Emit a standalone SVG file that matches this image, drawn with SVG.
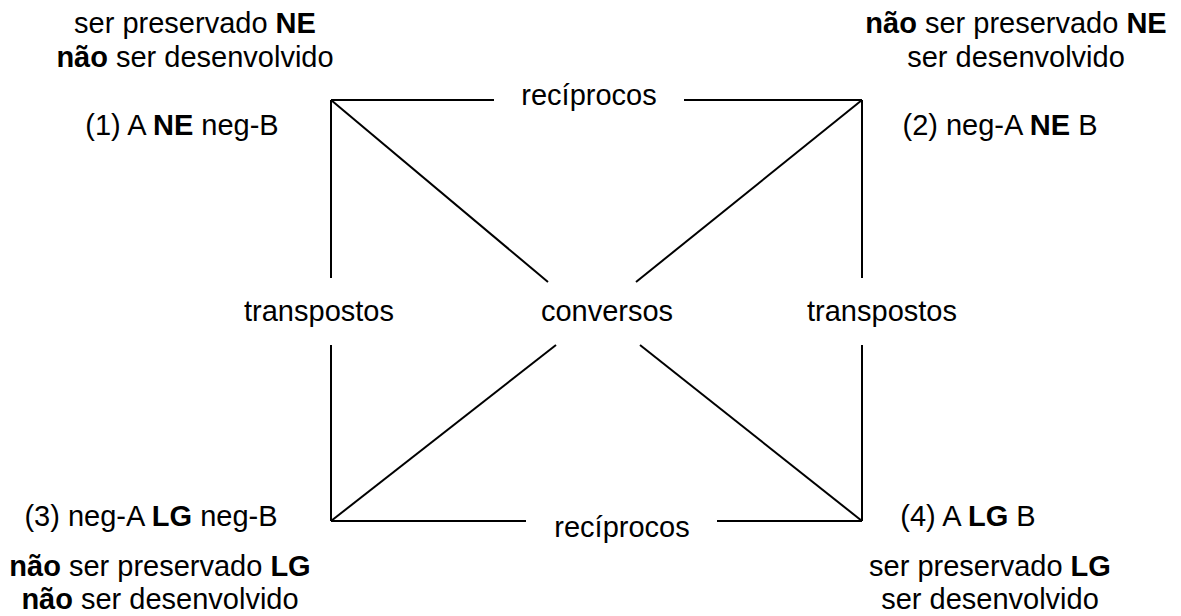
<svg xmlns="http://www.w3.org/2000/svg" width="1181" height="616" viewBox="0 0 1181 616">
<style>
text{font-family:"Liberation Sans",Arial,sans-serif;font-size:29px;fill:#000;text-anchor:middle}
.b{font-weight:bold}
line{stroke:#000;stroke-width:2;fill:none}
</style>
<rect width="1181" height="616" fill="#fff"/>
<g id="connectors">
<line x1="331" y1="100" x2="494" y2="100"/>
<line x1="684" y1="100" x2="862" y2="100"/>
<line x1="331" y1="521" x2="526" y2="521"/>
<line x1="717" y1="521" x2="862" y2="521"/>
<line x1="331" y1="100" x2="331" y2="278"/>
<line x1="331" y1="345" x2="331" y2="521"/>
<line x1="862" y1="100" x2="862" y2="278"/>
<line x1="862" y1="345" x2="862" y2="521"/>
<line x1="331" y1="100" x2="548" y2="282"/>
<line x1="862" y1="100" x2="636" y2="282"/>
<line x1="331" y1="521" x2="556" y2="345"/>
<line x1="862" y1="521" x2="640" y2="345"/>
</g>
<g id="label-reciprocos-top"><text x="589" y="105">recíprocos</text></g>
<g id="label-reciprocos-bottom"><text x="622" y="537">recíprocos</text></g>
<g id="label-transpostos-left"><text x="319" y="321">transpostos</text></g>
<g id="label-conversos"><text x="607" y="321">conversos</text></g>
<g id="label-transpostos-right"><text x="882" y="321">transpostos</text></g>
<g id="node1">
<text x="195" y="33">ser preservado <tspan class="b">NE</tspan></text>
<text x="195" y="67"><tspan class="b">não</tspan> ser desenvolvido</text>
<text x="182" y="135">(1) A <tspan class="b">NE</tspan> neg-B</text>
</g>
<g id="node2">
<text x="1016" y="33"><tspan class="b">não</tspan> ser preservado <tspan class="b">NE</tspan></text>
<text x="1016" y="67">ser desenvolvido</text>
<text x="1000" y="135">(2) neg-A <tspan class="b">NE</tspan> B</text>
</g>
<g id="node3">
<text x="151" y="526">(3) neg-A <tspan class="b">LG</tspan> neg-B</text>
<text x="160" y="576"><tspan class="b">não</tspan> ser preservado <tspan class="b">LG</tspan></text>
<text x="160" y="609"><tspan class="b">não</tspan> ser desenvolvido</text>
</g>
<g id="node4">
<text x="968" y="526">(4) A <tspan class="b">LG</tspan> B</text>
<text x="990" y="576">ser preservado <tspan class="b">LG</tspan></text>
<text x="990" y="609">ser desenvolvido</text>
</g>
</svg>
